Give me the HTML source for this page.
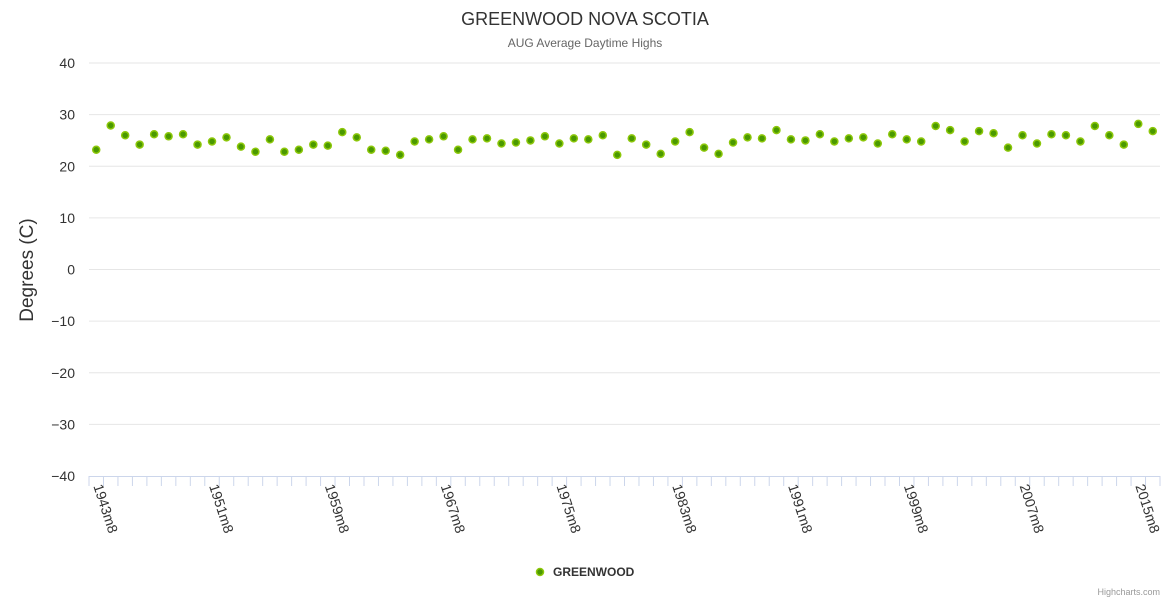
<!DOCTYPE html>
<html><head><meta charset="utf-8"><style>
html,body{margin:0;padding:0;background:#fff;}
svg{display:block;font-family:"Liberation Sans",sans-serif;}
</style></head><body>
<svg id="chart" width="1170" height="600" xmlns="http://www.w3.org/2000/svg">
<text x="585" y="25" text-anchor="middle" font-size="18" fill="#333">GREENWOOD NOVA SCOTIA</text>
<text x="585" y="47" text-anchor="middle" font-size="12" fill="#666">AUG Average Daytime Highs</text>
<text transform="translate(33,270) rotate(-90)" text-anchor="middle" font-size="19" fill="#333">Degrees (C)</text>
<g id="grid"></g>
<g id="yl"></g>
<g id="xa"></g>
<g id="pts"></g>
<g>
<circle cx="540" cy="572" r="3.5" fill="#4a9900" stroke="#8cc70a" stroke-width="1.5"/>
<text x="553" y="576" font-size="12" font-weight="bold" fill="#333">GREENWOOD</text>
</g>
<text x="1160" y="595" text-anchor="end" font-size="9" fill="#999">Highcharts.com</text>
</svg>
<script>
const startYear = 1943;
const values = [23.2,27.9,26.0,24.2,26.2,25.8,26.2,24.2,24.8,25.6,23.8,22.8,25.2,22.8,23.2,24.2,24.0,26.6,25.6,23.2,23.0,22.2,24.8,25.2,25.8,23.2,25.2,25.4,24.4,24.6,25.0,25.8,24.4,25.4,25.2,26.0,22.2,25.4,24.2,22.4,24.8,26.6,23.6,22.4,24.6,25.6,25.4,27.0,25.2,25.0,26.2,24.8,25.4,25.6,24.4,26.2,25.2,24.8,27.8,27.0,24.8,26.8,26.4,23.6,26.0,24.4,26.2,26.0,24.8,27.8,26.0,24.2,28.2,26.8];
const categories = values.map((v,i)=>(startYear+i)+"m8");
const yTicks = [40,30,20,10,0,-10,-20,-30,-40];
const NS="http://www.w3.org/2000/svg";
const L=89,R=1160,T=63,B=476,yMin=-40,yMax=40;
const cw=(R-L)/categories.length;
const xS=i=>L+cw*(i+0.5);
const yS=v=>B-(v-yMin)/(yMax-yMin)*(B-T);
function mk(t,a,p){const e=document.createElementNS(NS,t);for(const k in a)e.setAttribute(k,a[k]);p.appendChild(e);return e;}
const grid=document.getElementById('grid'),yl=document.getElementById('yl'),xa=document.getElementById('xa'),pts=document.getElementById('pts');
yTicks.forEach(t=>{
  if(t!==yMin){const g=mk('line',{x1:L,x2:R,y1:yS(t),y2:yS(t),stroke:'#e6e6e6','stroke-width':1},grid);
  
  }
  const tx=mk('text',{x:75,y:yS(t)+5,'text-anchor':'end','font-size':14,fill:'#333'},yl);
  tx.textContent=String(t).replace('-','\u2212');
  
  
});
const ax=mk('line',{x1:L,x2:R,y1:B+0.5,y2:B+0.5,stroke:'#ccd6eb','stroke-width':1},xa);


for(let i=0;i<=categories.length;i++){
  const x=L+cw*i;
  const tk=mk('line',{x1:x,x2:x,y1:B,y2:B+10,stroke:'#ccd6eb','stroke-width':1},xa);
  
  
}
categories.forEach((c,i)=>{
  if(i%8!==0)return;
  const x=xS(i)-3,y=B+10;
  const tx=mk('text',{x:x,y:y,'font-size':14,fill:'#333',transform:`rotate(72 ${x} ${y})`},xa);
  tx.textContent=c;
  
  
});
values.forEach((v,i)=>{
  const c=mk('circle',{cx:xS(i),cy:yS(v),r:3.5,fill:'#4a9900',stroke:'#8cc70a','stroke-width':1.5},pts);
  
  
});
</script>
</body></html>
